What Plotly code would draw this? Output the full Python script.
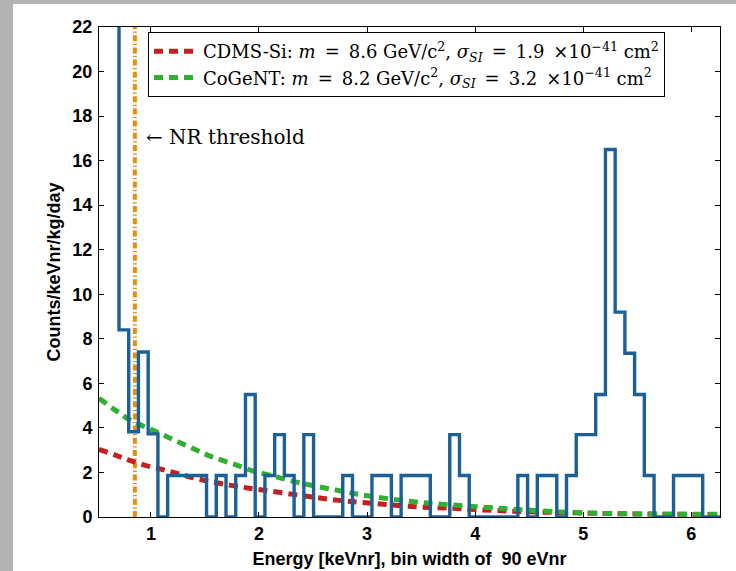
import numpy as np
import plotly.graph_objects as go

# ---------------- data ----------------
bin_start = 0.525          # keVnr, left edge of first bin
bin_width = 0.09           # keVnr (90 eVnr)
counts = [60, 30, 8.4, 3.83, 7.41, 3.73, 0,
          1.86, 1.86, 1.86, 1.86, 0, 1.86, 0, 1.86, 5.5, 0,
          1.86, 3.7, 1.86, 0, 3.7, 0, 0, 0, 1.86, 0, 0,
          1.86, 1.86, 0, 1.86, 1.86, 1.86, 0, 0, 3.7, 1.86,
          0, 0, 0, 0, 0, 1.86, 0, 1.86, 1.86, 0, 1.86,
          3.7, 3.7, 5.5, 16.5, 9.2, 7.35, 5.5, 1.86, 0, 0,
          1.86, 1.86, 1.86, 0, 0]

cdms_E = [0.52, 0.67, 0.79, 0.94, 1.10, 1.25, 1.41, 1.56, 1.78, 2.03, 2.36, 2.68,
          2.99, 3.45, 3.74, 4.24, 4.86, 5.47, 6.27]
cdms_rate = [3.04, 2.78, 2.56, 2.33, 2.14, 1.95, 1.74, 1.58, 1.39, 1.21, 0.99, 0.78,
             0.64, 0.46, 0.40, 0.28, 0.19, 0.14, 0.11]

cogent_E = [0.52, 0.67, 0.79, 0.94, 1.10, 1.25, 1.41, 1.56, 1.78, 1.97, 2.09, 2.40,
            2.71, 3.02, 3.48, 3.62, 4.24, 4.86, 5.47, 6.27]
cogent_rate = [5.33, 4.80, 4.40, 4.06, 3.72, 3.38, 3.03, 2.71, 2.35, 2.03, 1.89, 1.51,
               1.21, 0.94, 0.66, 0.60, 0.39, 0.21, 0.14, 0.12]

nr_threshold = 0.852

x_ticks = [1, 2, 3, 4, 5, 6]
y_ticks = list(range(0, 23, 2))
x_range = [0.52, 6.265]
y_range = [0, 22]

SP = "\u2002"
legend_cdms = ("CDMS-Si: <i>m</i>" + SP + "=" + SP + "8.6 GeV/c<sup>2</sup>, <i>σ<sub>SI</sub></i>"
               + SP + "=" + SP + "1.9" + SP + "×10<sup>−41</sup> cm<sup>2</sup>")
legend_cogent = ("CoGeNT: <i>m</i>" + SP + "=" + SP + "8.2 GeV/c<sup>2</sup>, <i>σ<sub>SI</sub></i>"
                 + SP + "=" + SP + "3.2" + SP + "×10<sup>−41</sup> cm<sup>2</sup>")

# ---------------- figure ----------------
edges = bin_start + bin_width * np.arange(len(counts) + 1)
hist_x = list(edges)
hist_y = list(counts) + [counts[-1]]

BLUE = "#1b6198"
RED = "#c42020"
GREEN = "#30b030"
ORANGE = "#ee8a0c"
SERIF = "DejaVu Serif, Liberation Serif, serif"
SANS = "Liberation Sans, Arial, sans-serif"

fig = go.Figure()

fig.add_trace(go.Scatter(
    x=[nr_threshold, nr_threshold], y=[0, 22], mode="lines",
    line=dict(color=ORANGE, width=4, dash="6px,2.5px,1.2px,2.5px"),
    showlegend=False, hoverinfo="skip"))

fig.add_trace(go.Scatter(
    x=cdms_E, y=cdms_rate, mode="lines", name=legend_cdms,
    line=dict(color=RED, width=5, dash="9px,6px", shape="spline")))

fig.add_trace(go.Scatter(
    x=cogent_E, y=cogent_rate, mode="lines", name=legend_cogent,
    line=dict(color=GREEN, width=5, dash="9px,6px", shape="spline")))

fig.add_trace(go.Scatter(
    x=hist_x, y=hist_y, mode="lines",
    line=dict(color=BLUE, width=3.4, shape="hv"),
    showlegend=False, hoverinfo="skip"))

fig.add_annotation(
    x=nr_threshold, y=17.05, xref="x", yref="y", xanchor="left", yanchor="middle",
    xshift=9, text="← NR threshold", showarrow=False,
    font=dict(family=SERIF, size=20, color="black"))

axis_common = dict(
    showline=True, linecolor="black", linewidth=1, mirror="ticks",
    ticks="inside", ticklen=5, tickwidth=1, tickcolor="black",
    showgrid=False, zeroline=False, automargin=False,
    tickfont=dict(family=SANS, size=18, color="black", weight="bold"),
)

fig.update_xaxes(range=x_range, tickvals=x_ticks, ticktext=[str(v) for v in x_ticks],
                 title=dict(text="Energy [keVnr], bin width of\u00a0\u00a090 eVnr",
                            font=dict(family=SANS, size=18, color="black", weight="bold"),
                            standoff=9),
                 **axis_common)
fig.update_yaxes(range=y_range, tickvals=y_ticks, ticktext=[str(v) for v in y_ticks],
                 ticklabelstandoff=2,
                 title=dict(text="Counts/keVnr/kg/day",
                            font=dict(family=SANS, size=18, color="black", weight="bold"),
                            standoff=7),
                 **axis_common)

L, R, T, B = 99, 16, 27, 54
W, H = 736, 571
pw, ph = W - L - R, H - T - B

def px_x(p):
    return (p - L) / pw

def px_y(p):
    return (H - B - p) / ph

fig.update_layout(
    width=W, height=H,
    margin=dict(l=L, r=R, t=T, b=B, pad=0, autoexpand=False),
    paper_bgcolor="white", plot_bgcolor="white",
    legend=dict(x=px_x(148), y=px_y(32), xanchor="left", yanchor="top",
                bgcolor="white", bordercolor="black", borderwidth=1,
                font=dict(family=SERIF, size=18, color="black"),
                itemwidth=44, tracegroupgap=0),
    shapes=[
        dict(type="rect", xref="paper", yref="paper", x0=px_x(0), x1=px_x(13),
             y0=px_y(H + 5), y1=px_y(-5), fillcolor="#b3b3b3", line=dict(width=0),
             layer="below"),
        dict(type="rect", xref="paper", yref="paper", x0=px_x(0), x1=px_x(W + 5),
             y0=px_y(4), y1=px_y(-5), fillcolor="#b3b3b3", line=dict(width=0),
             layer="below"),
    ],
)

fig.write_html("out.html")
